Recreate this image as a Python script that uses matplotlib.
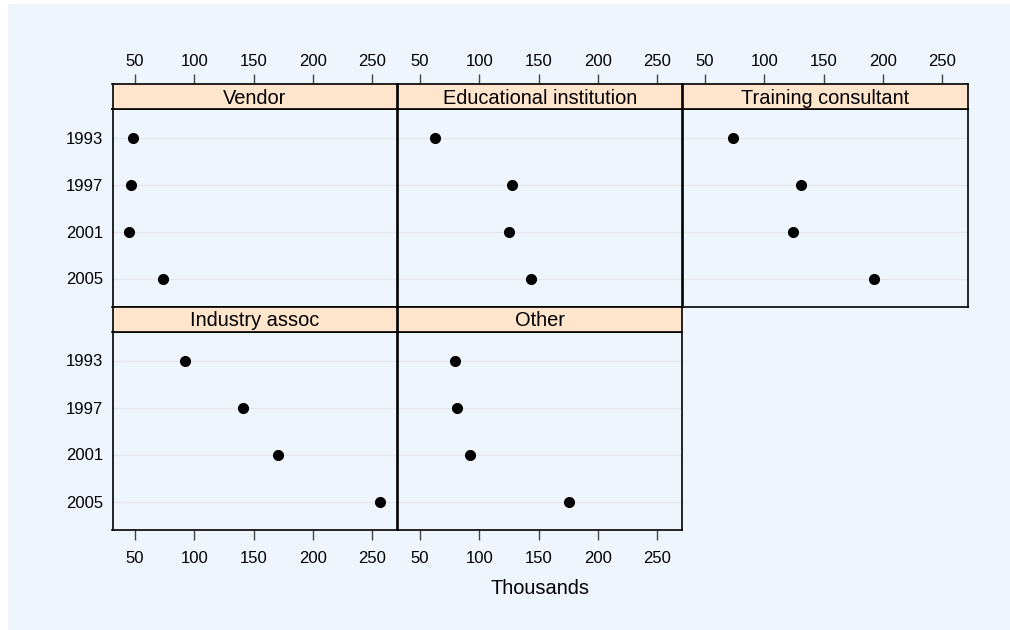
import numpy as np
import matplotlib
matplotlib.use('Agg')
from matplotlib import pyplot as plt
from matplotlib.patches import Rectangle

plt.rcParams['font.family'] = ['Liberation Sans', 'DejaVu Sans']

years = ['1993', '1997', '2001', '2005']
sources = ['Vendor', 'Educational institution', 'Training consultant', 'Industry assoc', 'Other']
vendor = [48, 47, 45, 73.5]
educational = [63, 128, 125, 144]
training = [74, 131, 124, 192.5]
industry = [92.5, 141, 170.5, 256.5]
other = [79.5, 81.5, 92, 176]
values = [vendor, educational, training, industry, other]
xticks = [50, 100, 150, 200, 250]

W, H = 1010, 630
bg = '#EEF5FC'
strip_col = '#FFE5CC'

fig = plt.figure(figsize=(W / 100, H / 100), dpi=100, facecolor='white')
fig.patches.append(Rectangle((8 / W, 0), 1, (H - 4) / H, transform=fig.transFigure,
                             facecolor=bg, edgecolor='none', zorder=-10))

def fx(px):
    return px / W

def fy(py):
    return 1 - py / H

col_left = [112.5, 397.5, 682.5]
col_w = 285
rows = [(84.3, 109.3, 306.7), (306.7, 332.3, 529.7)]

y = np.arange(len(years))
for i, (name, vals) in enumerate(zip(sources, values)):
    r, c = divmod(i, 3)
    s_top, p_top, p_bot = rows[r]
    ax = fig.add_axes([fx(col_left[c]), fy(p_bot), col_w / W, (p_bot - p_top) / H])
    ax.set_facecolor(bg)
    for yy in y:
        ax.axhline(yy, color='#E4E7EA', lw=1, zorder=1)
    ax.plot(vals, y, 'o', color='black', markersize=7, zorder=3)
    ax.set_xlim(31, 271.5)
    ax.set_ylim(len(years) - 0.4, -0.6)
    ax.set_xticks(xticks)
    ax.set_yticks(y)
    if c == 0:
        ax.set_yticklabels(years)
    else:
        ax.set_yticklabels([])
    ax.tick_params(axis='y', length=0, pad=7, labelsize=12)
    ax.tick_params(axis='x', length=7, width=1, color='#444444', labelsize=12, pad=8,
                   top=False, labeltop=False)
    # the top row has its scale above the strips instead
    if r == 0:
        ax.tick_params(axis='x', bottom=False, labelbottom=False)
    for sp in ax.spines.values():
        sp.set_linewidth(1.2)
        sp.set_color('black')

    sax = fig.add_axes([fx(col_left[c]), fy(p_top), col_w / W, (p_top - s_top) / H])
    sax.set_facecolor(strip_col)
    sax.set_xticks([])
    sax.set_yticks([])
    for sp in sax.spines.values():
        sp.set_linewidth(1.2)
    sax.text(0.5, 0.45, name, ha='center', va='center', fontsize=14.4, transform=sax.transAxes)
    if r == 0:
        sax.set_xlim(31, 271.5)
        sax.set_xticks(xticks)
        sax.xaxis.tick_top()
        sax.tick_params(axis='x', length=7, width=1, color='#444444', labelsize=12, pad=4)

fig.text(fx(540), fy(589), 'Thousands', ha='center', va='center', fontsize=14.4)

fig.savefig('out.png', dpi=100, facecolor=fig.get_facecolor())
